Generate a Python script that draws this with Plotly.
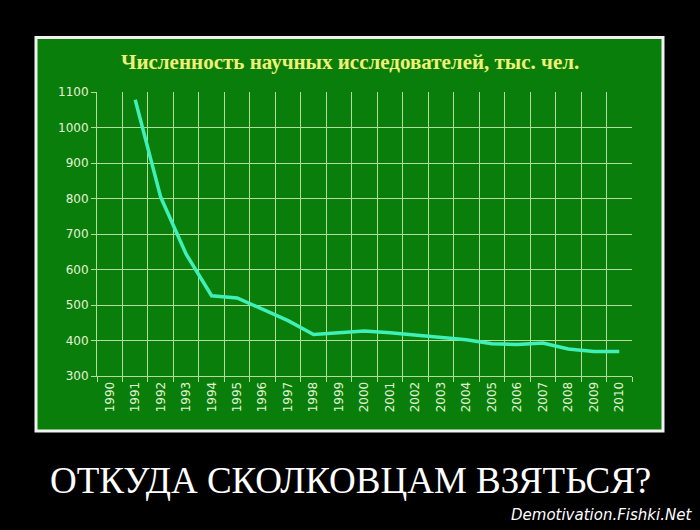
import plotly.graph_objects as go

years = [str(y) for y in range(1990, 2011)]
researchers = [None, 1078, 804, 643, 526, 520, 487, 456, 417, 421, 427,
               422, 415, 410, 402, 391, 389, 393, 376, 369, 369]

title_text = "Численность научных исследователей, тыс. чел."
caption_text = "ОТКУДА СКОЛКОВЦАМ ВЗЯТЬСЯ?"
watermark_text = "Demotivation.Fishki.Net"

# plot area in pixels (for placing decorations in paper coords)
L, R, T, B = 97, 632, 92, 376
PW, PH = R - L, B - T


def px(x):
    return (x - L) / PW


def py(y):
    return (B - y) / PH


fig = go.Figure()
fig.add_trace(go.Scatter(
    x=years, y=researchers, mode="lines",
    line=dict(color="#3ff0b8", width=3.5, shape="linear"),
    connectgaps=False, hoverinfo="x+y",
))

grid_c = "#b4dc9c"
tick_font = dict(family="DejaVu Sans", size=12, color="#e2f4d6")

fig.update_layout(
    width=700, height=530,
    paper_bgcolor="#000000",
    plot_bgcolor="rgba(0,0,0,0)",
    margin=dict(l=L, r=700 - R, t=T, b=530 - B),
    showlegend=False,
    xaxis=dict(
        type="category", categoryorder="array", categoryarray=years,
        range=[-0.5, 20.5], tickson="boundaries",
        showgrid=True, gridcolor=grid_c, gridwidth=1,
        ticks="outside", ticklen=5, tickcolor=grid_c,
        tickangle=-90, tickfont=tick_font,
        showline=True, linecolor=grid_c, linewidth=1,
        zeroline=False,
    ),
    yaxis=dict(
        range=[300, 1100], dtick=100, tick0=300,
        showgrid=True, gridcolor=grid_c, gridwidth=1,
        ticks="outside", ticklen=5, tickcolor=grid_c,
        tickfont=tick_font,
        showline=True, linecolor=grid_c, linewidth=1,
        zeroline=False,
    ),
    shapes=[
        dict(type="rect", xref="paper", yref="paper", layer="below",
             x0=px(36), x1=px(663), y0=py(431), y1=py(37.5),
             fillcolor="#0a7e0a",
             line=dict(color="#f2f2f2", width=3)),
    ],
    annotations=[
        dict(text="<b>" + title_text + "</b>", xref="paper", yref="paper",
             x=px(350), y=py(62), xanchor="center", yanchor="middle",
             showarrow=False,
             font=dict(family="Liberation Serif", size=21, color="#f0f078")),
        dict(text=caption_text, xref="paper", yref="paper",
             x=px(350), y=py(480), xanchor="center", yanchor="middle",
             showarrow=False,
             font=dict(family="Liberation Serif", size=37, color="#ffffff")),
        dict(text="<i>" + watermark_text + "</i>", xref="paper", yref="paper",
             x=px(694), y=py(515), xanchor="right", yanchor="middle",
             showarrow=False,
             font=dict(family="DejaVu Sans", size=15, color="#ffffff")),
    ],
)

fig.write_html(
    "out.html",
    config={"displayModeBar": False},
    post_script="document.body.style.margin='0';document.body.style.background='#000';",
)
